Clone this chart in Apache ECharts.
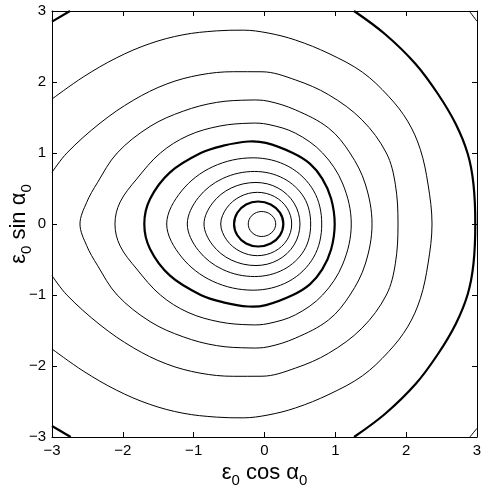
<!DOCTYPE html>
<html>
<head>
<meta charset="utf-8">
<script src="https://cdn.jsdelivr.net/npm/echarts@6/dist/echarts.min.js"></script>
<style>
html, body { margin: 0; padding: 0; background: #fff; }
#chart { width: 483px; height: 492px; }
</style>
</head>
<body>
<div id="chart"></div>
<script>
// contour lines, innermost first as [x, y]
// closed rings (drawn as closed smooth loops)
const ring1 = [[-0.04,0.176],[0.059,0.152],[0.131,0.088],[0.158,0],[0.131,-0.088],[0.059,-0.152],[-0.04,-0.176],[-0.135,-0.152],[-0.204,-0.088],[-0.229,0],[-0.204,0.088],[-0.135,0.152]]
const ring2 = [[-0.09,0.317],[0.088,0.275],[0.218,0.159],[0.266,0],[0.218,-0.159],[0.088,-0.275],[-0.09,-0.317],[-0.26,-0.275],[-0.384,-0.159],[-0.43,0],[-0.384,0.159],[-0.26,0.275]]
const ring3 = [[-0.1,0.446],[0.142,0.386],[0.319,0.223],[0.384,0],[0.319,-0.223],[0.142,-0.386],[-0.1,-0.446],[-0.345,-0.386],[-0.535,-0.223],[-0.618,0],[-0.535,0.223],[-0.345,0.386]]
const ring4 = [[-0.12,0.585],[0.191,0.507],[0.418,0.293],[0.501,0],[0.418,-0.293],[0.191,-0.507],[-0.12,-0.585],[-0.47,-0.507],[-0.735,-0.293],[-0.854,0],[-0.735,0.293],[-0.47,0.507]]
const ring5 = [[-0.14,0.74],[0.27,0.641],[0.56,0.37],[0.652,0],[0.56,-0.37],[0.27,-0.641],[-0.14,-0.74],[-0.59,-0.641],[-0.935,-0.37],[-1.09,0],[-0.935,0.37],[-0.59,0.641]]
const ring6 = [[-0.16,0.932],[0.345,0.807],[0.695,0.466],[0.808,0],[0.695,-0.466],[0.345,-0.807],[-0.16,-0.932],[-0.73,-0.807],[-1.17,-0.466],[-1.381,0],[-1.17,0.466],[-0.73,0.807]]
const ring7 = [[-0.23,1.162],[0.02,1.142],[0.4,1.0],[0.64,0.85],[0.815,0.64],[0.94,0.36],[0.991,0],[0.94,-0.36],[0.815,-0.64],[0.64,-0.85],[0.4,-1.0],[0.02,-1.142],[-0.23,-1.162],[-0.582,-1.103],[-0.9,-1.0],[-1.334,-0.728],[-1.616,-0.352],[-1.697,0],[-1.616,0.352],[-1.334,0.728],[-0.9,1.0],[-0.582,1.103]]
const ring8 = [[-0.205,1.42],[0.05,1.403],[0.435,1.28],[0.82,1.0],[1.106,0.563],[1.225,0],[1.106,-0.563],[0.82,-1.0],[0.435,-1.28],[0.05,-1.403],[-0.205,-1.42],[-0.63,-1.38],[-1.08,-1.245],[-1.47,-1.0],[-1.804,-0.634],[-2.04,-0.306],[-2.111,0],[-2.04,0.306],[-1.804,0.634],[-1.47,1.0],[-1.08,1.245],[-0.63,1.38]]
const ring9 = [[-0.205,1.746],[0.05,1.73],[0.435,1.608],[0.906,1.35],[1.207,1.0],[1.423,0.563],[1.518,0],[1.423,-0.563],[1.207,-1.0],[0.906,-1.35],[0.435,-1.608],[0.05,-1.73],[-0.205,-1.746],[-0.675,-1.713],[-1.146,-1.59],[-1.616,-1.374],[-2.08,-1.0],[-2.36,-0.58],[-2.51,-0.306],[-2.605,0],[-2.51,0.306],[-2.36,0.58],[-2.08,1.0],[-1.616,1.374],[-1.146,1.59],[-0.675,1.713]]
// open lines leaving the frame
const ring10 = [[-3,0.727],[-2.79,1.0],[-2.322,1.42],[-1.852,1.743],[-1.381,1.972],[-0.911,2.1],[-0.44,2.145],[-0.035,2.144],[0.435,2.03],[0.906,1.82],[1.376,1.467],[1.72,1.0],[1.847,0.56],[1.885,0],[1.847,-0.56],[1.72,-1.0],[1.376,-1.467],[0.906,-1.82],[0.435,-2.03],[-0.035,-2.144],[-0.44,-2.145],[-0.911,-2.1],[-1.381,-1.972],[-1.852,-1.743],[-2.322,-1.42],[-2.79,-1.0],[-3,-0.727]]
const ring11 = [[-3,1.76],[-2.56,2.07],[-2.09,2.34],[-1.62,2.54],[-1.15,2.665],[-0.68,2.72],[-0.3,2.73],[0.05,2.69],[0.44,2.59],[0.91,2.4],[1.38,2.14],[1.75,1.8],[2.02,1.45],[2.2,1.05],[2.31,0.55],[2.365,0],[2.31,-0.55],[2.2,-1.05],[2.02,-1.45],[1.75,-1.8],[1.38,-2.14],[0.91,-2.4],[0.44,-2.59],[0.05,-2.69],[-0.3,-2.73],[-0.68,-2.72],[-1.15,-2.665],[-1.62,-2.54],[-2.09,-2.34],[-2.56,-2.07],[-3,-1.76]]
const ring12 = [[1.264,3],[1.7,2.676],[2.133,2.254],[2.449,1.831],[2.7,1.408],[2.87,0.986],[2.95,0.563],[2.976,0],[2.95,-0.563],[2.87,-0.986],[2.7,-1.408],[2.449,-1.831],[2.133,-2.254],[1.7,-2.676],[1.264,-3]]
const cornerTL = [[-3,2.85],[-2.746,3]]
const cornerBL = [[-3,-2.845],[-2.736,-3]]
const cornerTR = [[2.89,3],[3,2.855]]
const cornerBR = [[2.9,-3],[3,-2.877]]

const thinRings = [ring1, ring3, ring4, ring5, ring6, ring8, ring9]
const thickRings = [ring2, ring7]
const thinOpen = [ring10, ring11, cornerTR, cornerBR]
const thickOpen = [ring12, cornerTL, cornerBL]

const axisMin = -3, axisMax = 3, axisStep = 1
const thin = 1, thick = 2.2, smoothness = 0.35
const font = "'Liberation Sans', Arial, Helvetica, sans-serif"

function tickText(v) {
    return v < 0 ? "\u2212" + Math.abs(v) : String(v)
}

function lineSeries(data, width) {
    return {
        type: "line",
        data: data,
        smooth: smoothness,
        showSymbol: false,
        silent: true,
        clip: true,
        lineStyle: { color: "#000", width: width }
    }
}

// closed contour: one smooth loop through all its points
function ringSeries(data, width) {
    return {
        type: "custom",
        data: data,
        silent: true,
        renderItem: function (params, api) {
            if (params.dataIndex !== 0) return null
            return {
                type: "polygon",
                shape: { points: data.map(p => api.coord(p)), smooth: smoothness },
                style: { fill: "none", stroke: "#000", lineWidth: width }
            }
        }
    }
}

const nameRich = {
    e: { fontSize: 22, lineHeight: 22, verticalAlign: "top", fontFamily: font, color: "#000" },
    s: { fontSize: 15, lineHeight: 15, verticalAlign: "top", fontFamily: font, color: "#000", padding: [11, 0, 0, 0] }
}

function axis(pos, showLabel, name, nameGap) {
    let a = {
        type: "value",
        min: axisMin,
        max: axisMax,
        interval: axisStep,
        position: pos,
        axisLine: { show: true, onZero: false, lineStyle: { color: "#000", width: 1 } },
        axisTick: { show: true, inside: true, length: 5, lineStyle: { color: "#000", width: 1 } },
        axisLabel: {
            show: showLabel, formatter: tickText, color: "#000",
            fontSize: 15, fontFamily: font, margin: 6
        },
        splitLine: { show: false }
    }
    if (name) {
        a.name = name
        a.nameLocation = "middle"
        a.nameGap = nameGap
        a.nameMoveOverlap = false
        a.nameTextStyle = { rich: nameRich }
    }
    return a
}

const chart = echarts.init(document.getElementById("chart"), null, { renderer: "canvas" })

let series = []
thinRings.forEach(d => series.push(ringSeries(d, thin)))
thickRings.forEach(d => series.push(ringSeries(d, thick)))
thinOpen.forEach(d => series.push(lineSeries(d, thin)))
thickOpen.forEach(d => series.push(lineSeries(d, thick)))

chart.setOption({
    animation: false,
    backgroundColor: "#fff",
    grid: { left: 52, top: 11, width: 425, height: 426, containLabel: false, outerBoundsMode: "none" },
    xAxis: [
        axis("bottom", true, "{e|ε}{s|0}{e| cos α}{s|0}", 25),
        axis("top", false)
    ],
    yAxis: [
        Object.assign(axis("left", true, "{e|ε}{s|0}{e| sin α}{s|0}", 22), { nameRotate: 90 }),
        axis("right", false)
    ],
    series: series
})
</script>
</body>
</html>
